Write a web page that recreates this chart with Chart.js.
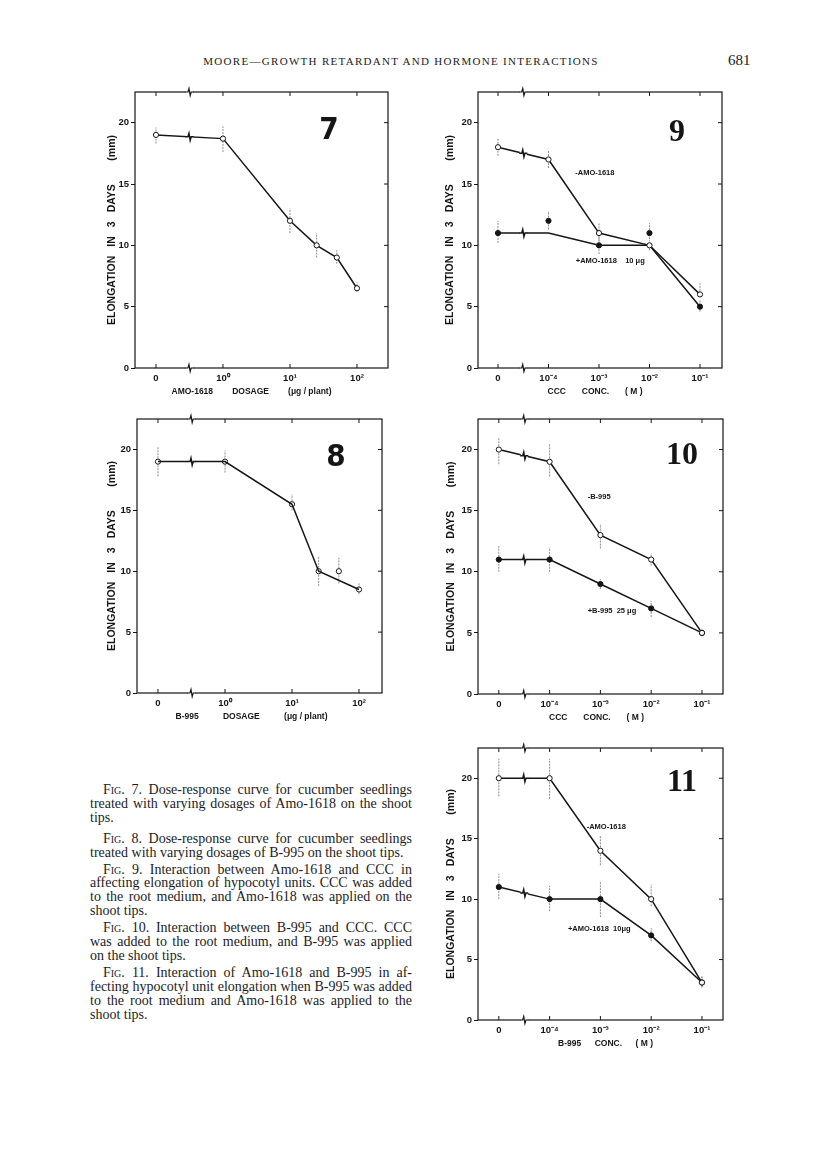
<!DOCTYPE html>
<html>
<head>
<meta charset="utf-8">
<script src="https://cdn.jsdelivr.net/npm/chart.js"></script>
<style>
  body { margin: 0; background: #fff; width: 816px; height: 1152px; position: relative; overflow: hidden; }
  .box { position: absolute; }
  #head { position: absolute; left: 0; top: 55px; width: 802px; text-align: center; font: 11px 'Liberation Serif', serif; letter-spacing: 1.3px; color: #222; }
  #page { position: absolute; left: 728px; top: 52px; font: 15px 'Liberation Serif', serif; color: #222; }
  #cap { position: absolute; left: 90px; top: 783px; width: 322px; font: 14px/13.9px 'Liberation Serif', serif; text-align: justify; color: #1c1c1c; }
  #cap p { margin: 0 0 3px; text-indent: 13px; }
  #cap p:first-child { margin-bottom: 7px; }
  .sc { font-variant: small-caps; }
</style>
</head>
<body>
<div id="head">MOORE—GROWTH RETARDANT AND HORMONE INTERACTIONS</div>
<div id="page">681</div>

<div class="box" style="left:90px;top:82px"><canvas id="fig7" width="308" height="321"></canvas></div>
<div class="box" style="left:433px;top:82px"><canvas id="fig9" width="299" height="321"></canvas></div>
<div class="box" style="left:92px;top:409px"><canvas id="fig8" width="300" height="319"></canvas></div>
<div class="box" style="left:433px;top:409px"><canvas id="fig10" width="300" height="320"></canvas></div>
<div class="box" style="left:433px;top:738px"><canvas id="fig11" width="300" height="317"></canvas></div>

<div id="cap">
  <p><span class="sc">Fig.</span> 7. Dose-response curve for cucumber seedlings treated with varying dosages of Amo-1618 on the shoot tips.</p>
  <p><span class="sc">Fig.</span> 8. Dose-response curve for cucumber seedlings treated with varying dosages of B-995 on the shoot tips.</p>
  <p><span class="sc">Fig.</span> 9. Interaction between Amo-1618 and CCC in affecting elongation of hypocotyl units. CCC was added to the root medium, and Amo-1618 was applied on the shoot tips.</p>
  <p><span class="sc">Fig.</span> 10. Interaction between B-995 and CCC. CCC was added to the root medium, and B-995 was applied on the shoot tips.</p>
  <p><span class="sc">Fig.</span> 11. Interaction of Amo-1618 and B-995 in af-fecting hypocotyl unit elongation when B-995 was added to the root medium and Amo-1618 was applied to the shoot tips.</p>
</div>

<script>
// shared axes
const yTickVals = [0, 5, 10, 15, 20];
const doseLabels = ['0', '10⁰', '10¹', '10²'];
const doseTicks = [0, 1, 10, 100];
const concLabels = ['0', '10⁻⁴', '10⁻³', '10⁻²', '10⁻¹'];
const conc = [0, 1e-4, 1e-3, 1e-2, 1e-1];

// Fig. 7  Amo-1618 dosage
const fig7Dose = [0, 1, 10, 25, 50, 100];
const fig7Elong = [19, 18.7, 12, 10, 9, 6.5];
const fig7Lo = [18.3, 17.6, 11, 9, 8.5, 6.2];
const fig7Hi = [19.6, 19.7, 13, 11, 9.6, 7];

// Fig. 8  B-995 dosage (line skips the 50 ug point)
const fig8Dose = [0, 1, 10, 25, 50, 100];
const fig8Elong = [19, 19, 15.5, 10, 10, 8.5];
const fig8Line = [19, 19, 15.5, 10, null, 8.5];
const fig8Lo = [17.8, 18.1, 15, 8.8, 9, 8.1];
const fig8Hi = [20.2, 19.9, 16.3, 11.2, 11.1, 9];

// Fig. 9  CCC with / without Amo-1618
const fig9Minus = [18, 17, 11, 10, 6];
const fig9MinusLo = [17.3, 16.3, 10.4, 9.6, 5.8];
const fig9MinusHi = [18.7, 17.7, 11.8, 10.4, 6.9];
const fig9Plus = [11, 12, 10, 11, 5];
const fig9PlusLine = [11, 11, 10, 10, 5];
const fig9PlusLo = [10.2, 11.3, 9.3, 10.5, 4.6];
const fig9PlusHi = [12, 12.8, 10.7, 11.8, 5.5];

// Fig. 10  CCC with / without B-995
const fig10Minus = [20, 19, 13, 11, 5];
const fig10MinusLo = [18.8, 17.8, 11.9, 10.5, 4.8];
const fig10MinusHi = [21, 20.5, 13.9, 11.5, 5.3];
const fig10Plus = [11, 11, 9, 7, 5];
const fig10PlusLo = [10, 10, 8.6, 6.3, 4.7];
const fig10PlusHi = [12.1, 12, 9.4, 7.6, 5.3];

// Fig. 11  B-995 with / without Amo-1618
const fig11Minus = [20, 20, 14, 10, 3.1];
const fig11MinusLo = [18.5, 18.3, 12.8, 9.4, 2.7];
const fig11MinusHi = [21.6, 21.6, 15.2, 11.2, 3.6];
const fig11Plus = [11, 10, 10, 7, 3.1];
const fig11PlusLo = [10, 9, 8.5, 6.5, 2.7];
const fig11PlusHi = [12.1, 11.1, 11.5, 7.6, 3.6];

// log position on the broken axis; zero sits one decade left of the first tick
const dosePos = d => d === 0 ? -1 : Math.log10(d);
const concPos = c => c === 0 ? -5 : Math.log10(c);

const INK = '#151515';
const SANS = "'Liberation Sans', Arial, sans-serif";
const Y_WORDS = ['ELONGATION', 'IN', '3', 'DAYS', '(mm)'];
const Y_GAPS = [1, 1, 1, 2.6];
const extras = {};

function zig(ctx, px, py) {
  ctx.fillStyle = '#fff';
  ctx.fillRect(px - 3.5, py - 2, 7, 4);
  ctx.beginPath();
  ctx.moveTo(px - 4, py);
  ctx.lineTo(px - 1.5, py);
  ctx.lineTo(px - 0.5, py - 3.5);
  ctx.lineTo(px + 0.7, py + 3.5);
  ctx.lineTo(px + 1.7, py);
  ctx.lineTo(px + 4, py);
  ctx.stroke();
}

// words spread over a fixed length, wide gaps like the lettering guide
function spread(ctx, words, gaps, cx, cy, width) {
  const ws = words.map(w => ctx.measureText(w).width);
  const free = width - ws.reduce((s, v) => s + v, 0);
  const unit = free / gaps.reduce((s, v) => s + v, 0);
  let px = cx - width / 2;
  ctx.textAlign = 'left';
  ctx.textBaseline = 'middle';
  words.forEach((w, i) => {
    ctx.fillText(w, px, cy);
    px += ws[i] + (i < gaps.length ? gaps[i] * unit : 0);
  });
}

const paper = {
  id: 'paper',
  beforeDatasetsDraw(chart) {
    const e = extras[chart.canvas.id];
    const { ctx, chartArea: a, scales: { x, y } } = chart;
    ctx.save();
    ctx.strokeStyle = INK;
    ctx.lineWidth = 1.2;
    ctx.strokeRect(a.left, a.top, a.right - a.left, a.bottom - a.top);
    ctx.lineWidth = 1;
    ctx.beginPath();
    e.xTicks.forEach(v => {
      const px = x.getPixelForValue(v);
      ctx.moveTo(px, a.top); ctx.lineTo(px, a.top + 4);
      ctx.moveTo(px, a.bottom); ctx.lineTo(px, a.bottom - 4);
    });
    yTickVals.forEach(v => {
      if (!v) return;
      const py = y.getPixelForValue(v);
      ctx.moveTo(a.right, py); ctx.lineTo(a.right - 4, py);
    });
    ctx.stroke();
    // error bars
    ctx.strokeStyle = '#8c8c8c';
    ctx.setLineDash([2, 1]);
    e.errors.forEach(s => s.lo.forEach((lo, i) => {
      const px = x.getPixelForValue(s.x[i]);
      ctx.beginPath();
      ctx.moveTo(px, y.getPixelForValue(lo));
      ctx.lineTo(px, y.getPixelForValue(s.hi[i]));
      ctx.stroke();
    }));
    ctx.restore();
  },
  afterDatasetsDraw(chart) {
    const e = extras[chart.canvas.id];
    const { ctx, chartArea: a, scales: { x, y } } = chart;
    ctx.save();
    ctx.strokeStyle = INK;
    ctx.lineWidth = 1.2;
    const bx = x.getPixelForValue(e.brk);
    zig(ctx, bx, a.top);
    zig(ctx, bx, a.bottom);
    ctx.lineWidth = 1.5;
    chart.data.datasets.forEach((ds, i) => {
      if (!ds.showLine) return;
      const pts = chart.getDatasetMeta(i).data;
      const p0 = pts[0], p1 = pts[1];
      const t = (bx - p0.x) / (p1.x - p0.x);
      zig(ctx, bx, p0.y + t * (p1.y - p0.y));
    });
    // curve labels
    ctx.fillStyle = INK;
    ctx.font = 'bold 7.5px ' + SANS;
    ctx.textBaseline = 'middle';
    e.notes.forEach(n => ctx.fillText(n.text, x.getPixelForValue(n.x), y.getPixelForValue(n.y)));
    // axis titles
    ctx.font = 'bold 8.5px ' + SANS;
    spread(ctx, e.xWords, e.xWords.slice(1).map(() => 1), (a.left + a.right) / 2 + e.xTitleDx, a.bottom + 24, e.xTitleW);
    ctx.save();
    ctx.translate(a.left - e.yTitleDx, (a.top + a.bottom) / 2);
    ctx.rotate(-Math.PI / 2);
    ctx.font = 'bold 10.5px ' + SANS;
    spread(ctx, Y_WORDS, Y_GAPS, 0, 0, 190);
    ctx.restore();
    // figure number
    ctx.font = e.numFont;
    ctx.textAlign = 'center';
    ctx.textBaseline = 'middle';
    ctx.fillText(e.num, a.right - e.numDx, a.top + e.numDy);
    ctx.restore();
  }
};

function lineSet(xs, ys, open, withPoints) {
  return {
    data: xs.map((v, i) => ({ x: v, y: ys[i] })),
    showLine: true,
    spanGaps: true,
    borderColor: INK,
    borderWidth: 1.5,
    pointRadius: withPoints ? 2.6 : 0,
    pointBorderWidth: 1,
    pointBorderColor: INK,
    pointBackgroundColor: open ? '#fff' : INK
  };
}

function dotSet(xs, ys, open) {
  return {
    data: xs.map((v, i) => ({ x: v, y: ys[i] })),
    showLine: false,
    pointRadius: 2.6,
    pointBorderWidth: 1,
    pointBorderColor: INK,
    pointBackgroundColor: open ? '#fff' : INK
  };
}

function makeChart(id, datasets, ax) {
  new Chart(document.getElementById(id), {
    type: 'scatter',
    data: { datasets },
    plugins: [paper],
    options: {
      responsive: false,
      animation: false,
      layout: { padding: { top: 10, right: 10, left: 0, bottom: 0 } },
      plugins: { legend: { display: false }, tooltip: { enabled: false } },
      scales: {
        x: {
          type: 'linear', min: ax.xmin, max: ax.xmax,
          afterBuildTicks: s => { s.ticks = ax.tickPos.map(v => ({ value: v })); },
          afterFit: s => { s.height = 35; },
          grid: { display: false, drawTicks: false },
          border: { display: false },
          ticks: {
            padding: 5, color: INK, maxRotation: 0, autoSkip: false,
            font: { family: SANS, weight: 'bold', size: 9.5 },
            callback: (v, i) => ax.tickLabels[i]
          }
        },
        y: {
          min: 0, max: 22.5,
          afterBuildTicks: s => { s.ticks = yTickVals.map(v => ({ value: v })); },
          afterFit: s => { s.width = 45; },
          grid: { drawOnChartArea: false, drawTicks: true, tickLength: 4, color: INK },
          border: { display: false },
          ticks: { padding: 2, color: INK, font: { family: SANS, weight: 'bold', size: 9.5 } }
        }
      }
    }
  });
}

const NUM_SANS = "bold 31px 'Liberation Sans Narrow', 'DejaVu Sans Condensed', sans-serif";
const NUM_SERIF = "bold 32px 'Liberation Serif', serif";

// Fig. 7
const f7x = fig7Dose.map(dosePos);
extras.fig7 = {
  xTicks: doseTicks.map(dosePos), brk: -0.5,
  errors: [{ x: f7x, lo: fig7Lo, hi: fig7Hi }],
  notes: [], num: '7', numFont: NUM_SANS, numDx: 59, numDy: 39,
  xWords: ['AMO-1618', 'DOSAGE', '(μg / plant)'], xTitleW: 160, xTitleDx: -10, yTitleDx: 23
};
makeChart('fig7', [lineSet(f7x, fig7Elong, true, true)], {
  xmin: -1.313, xmax: 2.463, tickPos: doseTicks.map(dosePos), tickLabels: doseLabels
});

// Fig. 8
const f8x = fig8Dose.map(dosePos);
extras.fig8 = {
  xTicks: doseTicks.map(dosePos), brk: -0.5,
  errors: [{ x: f8x, lo: fig8Lo, hi: fig8Hi }],
  notes: [], num: '8', numFont: NUM_SANS, numDx: 46, numDy: 39,
  xWords: ['B-995', 'DOSAGE', '(μg / plant)'], xTitleW: 152, xTitleDx: -8, yTitleDx: 25
};
makeChart('fig8', [lineSet(f8x, fig8Line, true, false), dotSet(f8x, fig8Elong, true)], {
  xmin: -1.313, xmax: 2.343, tickPos: doseTicks.map(dosePos), tickLabels: doseLabels
});

// Fig. 9
const cx = conc.map(concPos);
extras.fig9 = {
  xTicks: cx, brk: -4.5,
  errors: [{ x: cx, lo: fig9MinusLo, hi: fig9MinusHi }, { x: cx, lo: fig9PlusLo, hi: fig9PlusHi }],
  notes: [{ text: '-AMO-1618', x: -3.47, y: 15.9 }, { text: '+AMO-1618    10 μg', x: -3.46, y: 8.7 }],
  num: '9', numFont: NUM_SERIF, numDx: 45, numDy: 41,
  xWords: ['CCC', 'CONC.', '( M )'], xTitleW: 95, xTitleDx: -5, yTitleDx: 28
};
makeChart('fig9', [lineSet(cx, fig9Minus, true, true), lineSet(cx, fig9PlusLine, false, false), dotSet(cx, fig9Plus, false)], {
  xmin: -5.396, xmax: -0.564, tickPos: cx, tickLabels: concLabels
});

// Fig. 10
extras.fig10 = {
  xTicks: cx, brk: -4.5,
  errors: [{ x: cx, lo: fig10MinusLo, hi: fig10MinusHi }, { x: cx, lo: fig10PlusLo, hi: fig10PlusHi }],
  notes: [{ text: '-B-995', x: -3.25, y: 16.1 }, { text: '+B-995  25 μg', x: -3.25, y: 6.8 }],
  num: '10', numFont: NUM_SERIF, numDx: 41, numDy: 37,
  xWords: ['CCC', 'CONC.', '( M )'], xTitleW: 95, xTitleDx: -4, yTitleDx: 27
};
makeChart('fig10', [lineSet(cx, fig10Minus, true, true), lineSet(cx, fig10Plus, false, true)], {
  xmin: -5.41, xmax: -0.586, tickPos: cx, tickLabels: concLabels
});

// Fig. 11
extras.fig11 = {
  xTicks: cx, brk: -4.5,
  errors: [{ x: cx, lo: fig11MinusLo, hi: fig11MinusHi }, { x: cx, lo: fig11PlusLo, hi: fig11PlusHi }],
  notes: [{ text: '-AMO-1618', x: -3.27, y: 16 }, { text: '+AMO-1618  10μg', x: -3.64, y: 7.5 }],
  num: '11', numFont: NUM_SERIF, numDx: 41, numDy: 35,
  xWords: ['B-995', 'CONC.', '( M )'], xTitleW: 95, xTitleDx: 5, yTitleDx: 27
};
makeChart('fig11', [lineSet(cx, fig11Minus, true, true), lineSet(cx, fig11Plus, false, true)], {
  xmin: -5.41, xmax: -0.586, tickPos: cx, tickLabels: concLabels
});
</script>
</body>
</html>
